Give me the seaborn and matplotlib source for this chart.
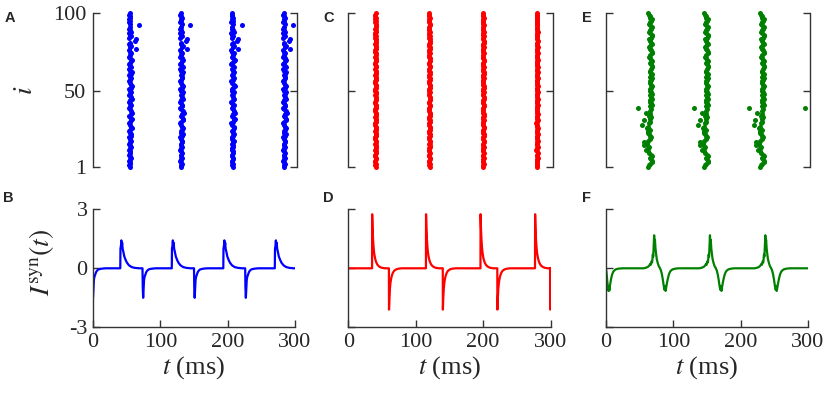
import numpy as np
import pandas as pd
import matplotlib
matplotlib.use("Agg")
import matplotlib.pyplot as plt
import seaborn as sns

sns.set_theme(style="ticks")
plt.rcParams["font.family"] = ["Liberation Serif", "DejaVu Serif"]
plt.rcParams["mathtext.fontset"] = "stix"
plt.rcParams["axes.unicode_minus"] = False

# ---------------- data ----------------
NEURONS = list(range(1, 101))

# burst (population spike) times in ms
A_BURSTS = [54.5, 130.5, 207.0, 283.5]
C_BURSTS = [40.0, 120.0, 200.0, 280.0]
E_BURSTS = [65.0, 148.0, 231.0, 314.0]

# spike-time offset (ms) of each neuron 1..100 inside a burst
A_OFF = [0.5, -0.5, 1.0, 0.0, -1.0, 0.5, 1.5, 0.0, -0.5, 1.0,
         0.5, -1.0, 0.0, 1.5, 0.5, -0.5, 1.0, 2.0, 0.0, -1.0,
         1.5, 2.5, 0.5, -0.5, 1.0, 3.0, 2.0, 0.0, -1.5, 0.5,
         2.5, 3.5, 1.0, -0.5, 1.5, 4.0, 2.5, 0.5, -1.0, 1.0,
         2.0, 0.0, -1.5, 0.5, 3.0, 1.5, -0.5, 1.0, 2.5, 0.0,
         -1.0, 1.5, 3.5, 2.0, 0.0, -1.5, 0.5, 2.0, 1.0, -0.5,
         1.5, 3.0, 0.5, -1.0, 2.5, 1.0, -1.5, 0.0, 2.0, 3.5,
         1.0, -1.0, 0.5, 2.0, 0.0, -1.5, 9.0, 1.0, 2.5, -0.5,
         0.5, 7.5, 9.0, -1.0, 1.5, 0.0, -1.5, 2.0, 0.5, -1.0,
         0.0, 14.0, 1.0, -1.5, 0.5, -0.5, 1.0, 0.0, -1.0, 0.0]
C_OFF = [0.3, -0.4, 0.6, 0.0, -0.7, 0.4, 0.9, -0.2, -0.5, 0.7,
         0.2, -0.8, 0.1, 0.8, 0.3, -0.3, 0.6, 1.0, -0.1, -0.6,
         0.5, 0.9, 0.2, -0.4, 0.4, 1.1, 0.6, -0.2, -0.8, 0.3,
         0.8, 0.2, -0.5, 0.5, 1.0, 0.4, -0.3, -0.7, 0.1, 0.6,
         0.9, 0.0, -0.6, 0.3, 0.8, 0.5, -0.4, 0.2, 1.0, -0.1,
         -0.5, 0.6, 0.9, 0.4, -0.2, -0.7, 0.3, 0.7, 0.1, -0.4,
         0.5, 0.9, 0.2, -0.6, 0.8, 0.3, -0.5, 0.0, 0.6, 1.0,
         0.3, -0.5, 0.2, 0.7, -0.1, -0.6, 0.4, 0.8, 0.1, -0.3,
         0.5, 0.9, 0.3, -0.4, 0.6, 0.0, -0.6, 0.7, 0.2, -0.5,
         0.1, 0.6, 0.3, -0.4, 0.2, -0.2, 0.5, 0.0, -0.3, 0.1]
E_OFF = [-3, -1, 1, 3, 4, 2, 0, 4, 2, -1,
         -2, -5, -3, -1, -8, -4, -8, -2, 0, 2,
         1, -1, -3, -2, 0, -4, -2, -11, -1, 1,
         -9, 0, 2, -1, 1, -6, 0, 2, -18, 1,
         3, 2, 0, 1, 3, 2, 1, 3, 2, 0,
         1, 2, 3, 2, 1, 0, 2, 3, 1, 2,
         3, 1, 0, 2, 3, 4, 2, 1, 3, 2,
         0, -1, 1, 3, 4, 2, 0, -1, 1, 3,
         2, 0, -1, 2, 4, 3, 1, -1, 0, 2,
         3, 1, -1, 0, 2, 3, 1, 0, -1, -2]

# synaptic current pulse shapes (time offset in ms, current)
B_POS_T = [0, 0.3, 1.0, 1.6, 2.2, 2.8, 3.5, 4.5, 6, 8, 10, 13, 17, 22, 28]
B_POS_I = [0, 1.0, 1.15, 1.42, 1.1, 1.3, 1.0, 0.85, 0.6, 0.42, 0.28, 0.15, 0.06, 0.02, 0]
B_NEG_T = [0, 0.4, 1.0, 1.6, 2.3, 3.0, 4.0, 5.5, 7, 9, 12, 16, 20]
B_NEG_I = [0, -1.0, -1.5, -1.1, -0.6, -0.45, -0.35, -0.2, -0.12, -0.06, -0.03, -0.01, 0]
B_POS_ON = [40.5, 117.0, 193.5, 270.0]
B_NEG_ON = [-1.0, 73.5, 150.0, 226.0]

D_POS_T = [0, 0.15, 0.8, 1.5, 2.3, 3.2, 4.5, 6, 8, 10.5, 14, 19]
D_POS_I = [0, 2.75, 2.0, 1.45, 1.05, 0.75, 0.5, 0.32, 0.18, 0.09, 0.03, 0]
D_NEG_T = [0, 0.15, 0.8, 1.5, 2.3, 3.2, 4.5, 6, 8, 10.5, 14, 19]
D_NEG_I = [0, -2.1, -1.5, -1.05, -0.75, -0.55, -0.36, -0.22, -0.12, -0.06, -0.02, 0]
D_POS_ON = [35.0, 115.0, 196.0, 277.0]
D_NEG_ON = [60.0, 140.0, 221.0, 299.7]

F_T = [-16, -12, -9, -7, -6, -5, -4, -3, -2, -1.3, -0.6, 0, 0.5, 1.2, 2, 3, 4,
       5.5, 7, 8.5, 10, 11.5, 13, 14.5, 15.5, 16.3, 17, 17.8, 19, 20.5, 22, 24,
       27, 31, 36]
F_I = [0, 0.03, 0.08, 0.15, 0.22, 0.18, 0.35, 0.3, 0.7, 0.6, 1.2, 1.68, 1.3, 1.45,
       1.0, 0.7, 0.45, 0.25, 0.1, 0.02, -0.1, -0.3, -0.6, -0.95, -1.1, -0.9,
       -1.15, -1.0, -0.75, -0.5, -0.3, -0.15, -0.06, -0.02, 0]
F_PEAKS = [71.5, 154.4, 236.6]
F0_T = [0, 1, 2, 3, 3.8, 4.5, 5.2, 6, 7.5, 9, 11, 14, 18, 24]
F0_I = [0, -0.3, -0.7, -1.0, -1.15, -0.95, -1.12, -0.85, -0.55, -0.32, -0.16,
        -0.06, -0.02, 0]

X_TICKS = [0, 100, 200, 300]
X_TICKLABELS = ["0", "100", "200", "300"]
Y_TICKS_TOP = [1, 50, 100]
Y_TICKS_BOT = [-3, 0, 3]

BLUE, RED, GREEN = "#0000ff", "#ff0000", "#008000"
SPINE = "#333333"


def raster_frame(bursts, offsets):
    rows = []
    for b in bursts:
        for n, o in zip(NEURONS, offsets):
            t = b + o
            if 0 <= t <= 301:
                rows.append((t, n))
    return pd.DataFrame(rows, columns=["t", "i"])


def trace_frame(pulses):
    """pulses: list of (onset, offsets, values)"""
    pts = []
    for onset, ts, vs in pulses:
        for t, v in zip(ts, vs):
            pts.append((onset + t, v))
    pts.sort(key=lambda p: p[0])
    full = [(0.0, 0.0)] if pts[0][0] > 0 else []
    full += [p for p in pts if 0 <= p[0] <= 300]
    if full[-1][0] < 300:
        full.append((300.0, 0.0))
    return pd.DataFrame(full, columns=["t", "I"])


# ---------------- figure ----------------
W, H = 829, 393
fig = plt.figure(figsize=(W / 100, H / 100), dpi=100)

col_left = [93, 348.5, 606]
col_w = 202
top_y0, top_y1 = 13, 167
bot_y0, bot_y1 = 209.3, 327.3


def rect(x0, y0, y1):
    return [x0 / W, 1 - y1 / H, col_w / W, (y1 - y0) / H]


rasters = [(A_BURSTS, A_OFF, BLUE), (C_BURSTS, C_OFF, RED), (E_BURSTS, E_OFF, GREEN)]

traces = [
    (trace_frame([(o, B_POS_T, B_POS_I) for o in B_POS_ON] +
                 [(o, B_NEG_T, B_NEG_I) for o in B_NEG_ON]), BLUE),
    (trace_frame([(o, D_POS_T, D_POS_I) for o in D_POS_ON] +
                 [(o, D_NEG_T, D_NEG_I) for o in D_NEG_ON]), RED),
    (trace_frame([(p, F_T, F_I) for p in F_PEAKS] + [(0.0, F0_T, F0_I)]), GREEN),
]

letters_top = ["A", "C", "E"]
letters_bot = ["B", "D", "F"]

for k in range(3):
    # raster
    ax = fig.add_axes(rect(col_left[k], top_y0, top_y1))
    bursts, offs, col = rasters[k]
    df = raster_frame(bursts, offs)
    sns.scatterplot(data=df, x="t", y="i", color=col, s=13, linewidth=0,
                    ax=ax, clip_on=False, legend=False)
    ax.set_xlim(0, 300)
    ax.set_ylim(1, 100)
    ax.set_xticks([])
    ax.set_yticks(Y_TICKS_TOP)
    for s in ["top", "bottom"]:
        ax.spines[s].set_visible(False)
    for s in ["left", "right"]:
        ax.spines[s].set_visible(True)
        ax.spines[s].set_color(SPINE)
        ax.spines[s].set_linewidth(1.0)
    ax.spines["right"].set_position(("axes", 1.01))
    ax.tick_params(axis="y", direction="in", length=5, width=1.0, color=SPINE,
                   left=True, right=True, labelsize=16, pad=5)
    if k == 0:
        ax.set_yticklabels(["1", "50", "100"])
    else:
        ax.set_yticklabels([])
    ax.set_xlabel("")
    ax.set_ylabel("")
    ax.patch.set_alpha(0)

    # trace
    ax2 = fig.add_axes(rect(col_left[k], bot_y0, bot_y1))
    tdf, col = traces[k]
    sns.lineplot(data=tdf, x="t", y="I", color=col, lw=1.6, estimator=None,
                 sort=False, ax=ax2)
    ax2.set_xlim(0, 300)
    ax2.set_ylim(-3, 3)
    ax2.set_xticks(X_TICKS)
    ax2.set_xticklabels(X_TICKLABELS)
    ax2.set_yticks(Y_TICKS_BOT)
    for s in ["top", "right"]:
        ax2.spines[s].set_visible(False)
    for s in ["left", "bottom"]:
        ax2.spines[s].set_color(SPINE)
        ax2.spines[s].set_linewidth(1.0)
    ax2.tick_params(direction="in", length=5, width=1.0, color=SPINE,
                    labelsize=16, pad=4)
    if k == 0:
        ax2.set_yticklabels(["-3", "0", "3"])
    else:
        ax2.set_yticklabels([])
    ax2.set_xlabel(r"$t$ (ms)", fontsize=19, labelpad=2)
    ax2.set_ylabel("")
    ax2.patch.set_alpha(0)

# panel letters
let_x = [5, 323, 582]
for k in range(3):
    fig.text(let_x[k] / W, 1 - 18 / H, letters_top[k], fontsize=10.5,
             fontweight="bold", family="Liberation Sans", va="center", ha="left")
    fig.text((let_x[k] - 2 if k == 0 else let_x[k]) / W, 1 - 198 / H,
             letters_bot[k], fontsize=10.5, fontweight="bold",
             family="Liberation Sans", va="center", ha="left")

# y labels
fig.text(25 / W, 1 - 90 / H, r"$i$", fontsize=20, rotation=90,
         va="center", ha="center")
fig.text(42 / W, 1 - 262 / H, r"$I^{\mathrm{syn}}(t)$", fontsize=20,
         rotation=90, va="center", ha="center")

fig.savefig("out.png", dpi=100)
